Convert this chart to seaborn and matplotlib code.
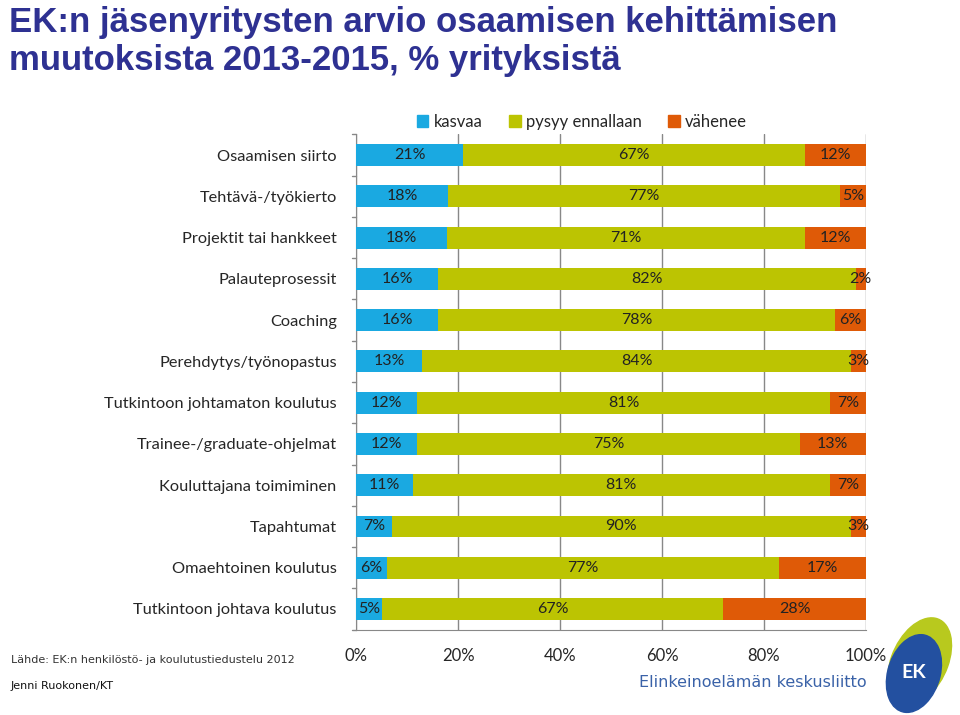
import numpy as np
import pandas as pd
import matplotlib
matplotlib.use("Agg")
import matplotlib.pyplot as plt
from matplotlib.patches import Ellipse, Patch
import seaborn as sns

# Data
categories = ['Osaamisen siirto', 'Tehtävä-/työkierto', 'Projektit tai hankkeet',
              'Palauteprosessit', 'Coaching', 'Perehdytys/työnopastus',
              'Tutkintoon johtamaton koulutus', 'Trainee-/graduate-ohjelmat',
              'Kouluttajana toimiminen', 'Tapahtumat', 'Omaehtoinen koulutus',
              'Tutkintoon johtava koulutus']
kasvaa = [21, 18, 18, 16, 16, 13, 12, 12, 11, 7, 6, 5]
pysyy = [67, 77, 71, 82, 78, 84, 81, 75, 81, 90, 77, 67]
vahenee = [12, 5, 12, 2, 6, 3, 7, 13, 7, 3, 17, 28]
series_names = ['kasvaa', 'pysyy ennallaan', 'vähenee']
colors = ['#1AA9E1', '#BCC402', '#DF5A07']

sns.set_style('white')
plt.rcParams['font.family'] = ['Lato', 'DejaVu Sans']

df = pd.DataFrame({'cat': categories, 'kasvaa': kasvaa, 'pysyy': pysyy, 'vahenee': vahenee})
total = df[['kasvaa', 'pysyy', 'vahenee']].sum(axis=1)
# bars fill the full width (100 % stacked)
df['p1'] = df['kasvaa'] / total * 100
df['p2'] = df['pysyy'] / total * 100
df['p3'] = df['vahenee'] / total * 100
df['c1'] = df['p1']
df['c2'] = df['p1'] + df['p2']
df['c3'] = df['c2'] + df['p3']

fig = plt.figure(figsize=(9.6, 7.15), dpi=100)
ax = fig.add_axes([0.371, 0.1194, 0.531, 0.6926])

# overlay cumulative bars, largest first
for col, c in [('c3', colors[2]), ('c2', colors[1]), ('c1', colors[0])]:
    sns.barplot(data=df, x=col, y='cat', orient='h', color=c, width=0.53,
                saturation=1, ax=ax, zorder=3, linewidth=0, edgecolor='none')

# segment labels
for i, row in df.iterrows():
    starts = [0, row['c1'], row['c2']]
    widths = [row['p1'], row['p2'], row['p3']]
    vals = [row['kasvaa'], row['pysyy'], row['vahenee']]
    for s, w, v in zip(starts, widths, vals):
        ax.text(s + w / 2, i, f'{v}%', ha='center', va='center',
                fontsize=11.5, color='#222222', zorder=5)

ax.set_xlim(0, 100)
ax.set_ylim(len(categories) - 0.5, -0.5)
ax.set_xticks(np.arange(0, 101, 20))
ax.set_xticklabels([f'{t}%' for t in range(0, 101, 20)], fontsize=12)
ax.set_yticks(range(len(categories)))
ax.set_yticklabels(categories, fontsize=11.8)
ax.set_xlabel('')
ax.set_ylabel('')
ax.tick_params(axis='y', length=0, pad=14)
ax.tick_params(axis='x', length=5, color='#888888', pad=8, direction='out')
ax.xaxis.grid(True, color='#888888', linewidth=1, zorder=0)
ax.set_axisbelow(True)
for s in ['top', 'right']:
    ax.spines[s].set_visible(False)
for s in ['left', 'bottom']:
    ax.spines[s].set_color('#888888')
# small ticks on the left spine between the categories
for b in np.arange(-0.5, len(categories), 1):
    ax.plot([-0.9, 0], [b, b], color='#888888', lw=1, clip_on=False, zorder=4)

handles = [Patch(color=c, label=n) for c, n in zip(colors, series_names)]
fig.legend(handles=handles, loc='center', bbox_to_anchor=(0.606, 0.830), ncol=3,
           frameon=False, fontsize=12, handlelength=0.7, handleheight=0.7,
           handletextpad=0.3, columnspacing=1.6)

fig.text(0.009, 0.992, 'EK:n jäsenyritysten arvio osaamisen kehittämisen\nmuutoksista 2013-2015, % yrityksistä',
         ha='left', va='top', fontsize=25, fontweight='bold', color='#2E3192',
         family=['Liberation Sans Narrow', 'Liberation Sans'], linespacing=1.2)

fig.text(0.011, 0.077, 'Lähde: EK:n henkilöstö- ja koulutustiedustelu 2012', fontsize=8,
         color='#333333', family=['Liberation Sans Narrow', 'DejaVu Sans'], va='center')
fig.text(0.011, 0.040, 'Jenni Ruokonen/KT', fontsize=8, color='#111111',
         family=['Liberation Sans Narrow', 'DejaVu Sans'], va='center')

# logo approximation
fig.text(0.903, 0.045, 'Elinkeinoelämän keskusliitto', ha='right', va='center',
         fontsize=11.5, color='#3A62A8', family=['Liberation Sans Narrow', 'DejaVu Sans'])
fig.patches.append(Ellipse((0.958, 0.075), 0.06, 0.125, angle=-15, color='#B8C91E',
                           transform=fig.transFigure, figure=fig))
fig.patches.append(Ellipse((0.952, 0.058), 0.055, 0.11, angle=-10, color='#2350A0',
                           transform=fig.transFigure, figure=fig))
fig.text(0.952, 0.06, 'EK', ha='center', va='center', fontsize=14, fontweight='bold',
         color='white')

fig.savefig('out.png', dpi=100, facecolor='white')
